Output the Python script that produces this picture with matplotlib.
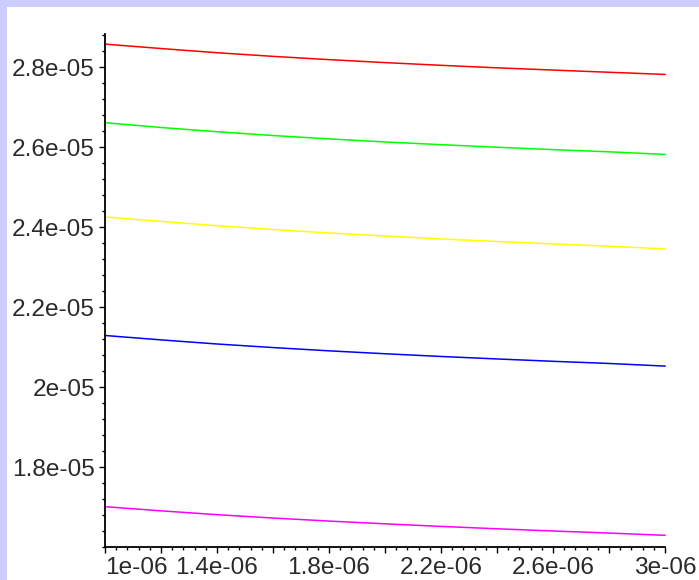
import matplotlib

matplotlib.use('Agg')

import numpy as np

import matplotlib.pyplot as plt

from matplotlib.patches import Rectangle

from matplotlib.ticker import MultipleLocator

t = [1.0e-06, 1.2e-06, 1.4e-06, 1.6e-06, 1.8e-06, 2.0e-06,
     2.2e-06, 2.4e-06, 2.6e-06, 2.8e-06, 3.0e-06]

# curve values, in units of 1e-05
red = [2.8584, 2.8474, 2.8369, 2.8278, 2.8196, 2.8122, 2.8054, 2.7991, 2.7935, 2.7880, 2.7826]
green = [2.6618, 2.6498, 2.6392, 2.6297, 2.6213, 2.6136, 2.6068, 2.6004, 2.5944, 2.5889, 2.5824]
yellow = [2.4259, 2.4148, 2.4040, 2.3945, 2.3859, 2.3782, 2.3710, 2.3645, 2.3584, 2.3526, 2.3460]
blue = [2.1293, 2.1183, 2.1080, 2.0991, 2.0909, 2.0836, 2.0768, 2.0706, 2.0647, 2.0593, 2.0527]
magenta = [1.7009, 1.6905, 1.6809, 1.6725, 1.6649, 1.6580, 1.6515, 1.6456, 1.6401, 1.6349, 1.6293]

xticks = [1.0e-06, 1.2e-06, 1.4e-06, 1.6e-06, 1.8e-06, 2.0e-06,
          2.2e-06, 2.4e-06, 2.6e-06, 2.8e-06, 3.0e-06]
xlabels = ['1e-06', '', '1.4e-06', '', '1.8e-06', '',
           '2.2e-06', '', '2.6e-06', '', '3e-06']
yticks = [1.8e-05, 2.0e-05, 2.2e-05, 2.4e-05, 2.6e-05, 2.8e-05]
ylabels = ['1.8e-05', '2e-05', '2.2e-05', '2.4e-05', '2.6e-05', '2.8e-05']

plt.rcParams['font.family'] = ['Liberation Sans', 'DejaVu Sans']

fig = plt.figure(figsize=(6.99, 5.80), dpi=100)

# window frame strips along the top and left edge
fig.patches.append(Rectangle((0, 0), 6.5 / 699, 1, transform=fig.transFigure,
                             facecolor='#ccccff', edgecolor='none', zorder=0))
fig.patches.append(Rectangle((0, 1 - 6.5 / 580), 1, 6.5 / 580, transform=fig.transFigure,
                             facecolor='#ccccff', edgecolor='none', zorder=0))

ax = fig.add_axes([105 / 699, 33 / 580, 560 / 699, 512.5 / 580])

x = np.array(t)
for vals, c in [(red, '#ff0000'), (green, '#00ff00'), (yellow, '#ffff00'),
                (blue, '#0000ff'), (magenta, '#ff00ff')]:
    ax.plot(x, np.array(vals) * 1e-05, color=c, linewidth=1.1, clip_on=False)

ax.set_xlim(1e-06, 3e-06)
ax.set_ylim(1.6e-05, 2.8825e-05)

ax.spines['top'].set_visible(False)
ax.spines['right'].set_visible(False)
ax.spines['left'].set_linewidth(1.3)
ax.spines['bottom'].set_linewidth(1.3)

ax.set_xticks(xticks, xlabels)
ax.set_yticks(yticks, ylabels)
ax.xaxis.set_minor_locator(MultipleLocator(0.04e-06))
ax.yaxis.set_minor_locator(MultipleLocator(0.04e-05))

ax.tick_params(which='major', direction='out', length=4.3, width=1.0,
               labelsize=17.6, labelcolor='#2a2a2a', pad=3)
ax.tick_params(which='minor', direction='out', length=2.3, width=1.0)

ax.get_xticklabels()[0].set_horizontalalignment('left')

plt.savefig('out.png', dpi=100)
